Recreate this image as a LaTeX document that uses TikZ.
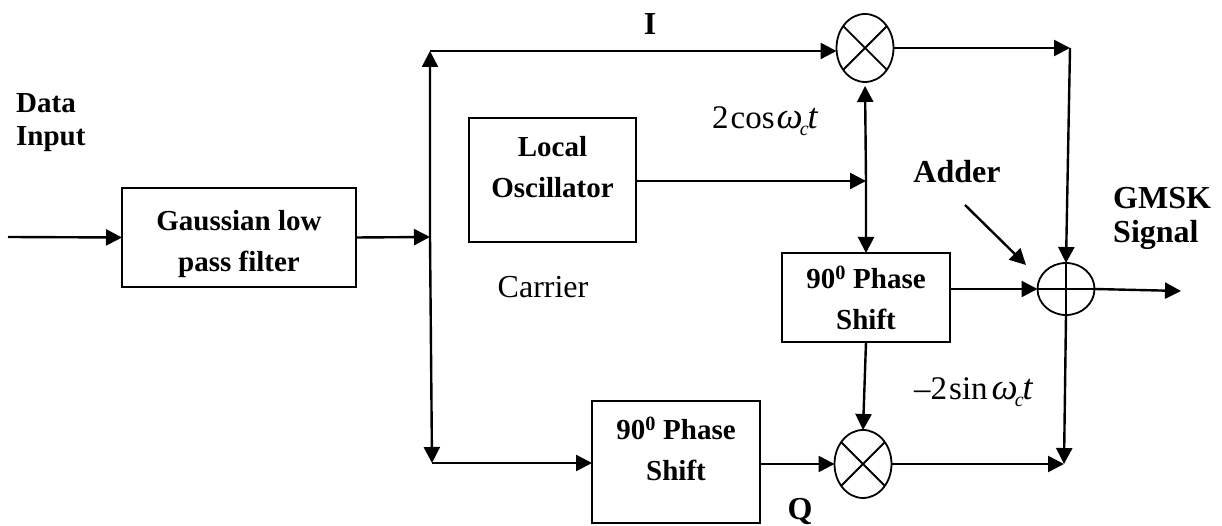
\documentclass[tikz,border=0pt]{standalone}
\usepackage{fontspec}
\setmainfont{Liberation Serif}
\usetikzlibrary{arrows.meta,shapes.geometric}
\tikzset{
  blockbox/.style={draw,line width=1.8pt,inner sep=0pt,outer sep=0pt,align=center,font=\fontsize{29}{41}\selectfont\bfseries},
  mixer/.style={draw,ellipse,line width=1.8pt,inner sep=0pt,outer sep=0pt,minimum width=57pt,minimum height=68pt},
  summer/.style={draw,ellipse,line width=1.8pt,inner sep=0pt,outer sep=0pt,minimum width=57pt,minimum height=52pt},
  flow/.style={line width=2.4pt,-{Triangle[length=16pt,width=16pt]}},
  twoway/.style={line width=2.4pt,{Triangle[length=16pt,width=16pt]}-{Triangle[length=16pt,width=16pt]}},
  boldlabel/.style={inner sep=0pt,align=left,font=\fontsize{29}{33.5}\selectfont\bfseries},
  biglabel/.style={inner sep=0pt,align=left,font=\fontsize{32}{34}\selectfont\bfseries},
  thinlabel/.style={inner sep=0pt,font=\fontsize{32}{36}\selectfont},
  mathlabel/.style={inner sep=0pt,font=\fontsize{33}{36}\selectfont}
}
\newcommand{\omc}{{\fontsize{37}{40}\selectfont\textit{ω}}\kern-3pt\raisebox{-7pt}{\fontsize{20}{22}\selectfont\textit{c}}\kern-1pt{\fontsize{36}{40}\selectfont\textit{t}}}
\begin{document}
\begin{tikzpicture}[x=1pt,y=1pt]
\useasboundingbox (0,0) rectangle (1222,526);
% blocks
\node[blockbox,minimum width=234pt,minimum height=99pt] (gauss) at (239,288.5) {\strut\\[-36.5pt]Gaussian low\\pass filter};
\node[blockbox,minimum width=167pt,minimum height=124pt] (lo) at (552.5,346) {Local\\Oscillator\\[-27pt]\strut};
\node[blockbox,minimum width=168pt,minimum height=89pt] (ps1) at (866,228.5) {90\textsuperscript{0} Phase\\Shift};
\node[blockbox,minimum width=168pt,minimum height=122pt] (ps2) at (676,64) {90\textsuperscript{0} Phase\\Shift\\[-27pt]\strut};
\node[mixer] (m1) at (865,478) {};
\node[mixer] (m2) at (863,62) {};
\node[summer] (sum) at (1066,237) {};
\foreach \m in {m1,m2}{
  \draw[line width=1.8pt] (\m.45) -- (\m.225);
  \draw[line width=1.8pt] (\m.135) -- (\m.315);
}
\draw[line width=1.8pt] (sum.north) -- (sum.south);
\draw[line width=1.8pt] (sum.west) -- (sum.east);
% junctions
\coordinate (inp) at (8,289);
\coordinate (jin) at (430,289);
\coordinate (top) at (430,475);
\coordinate (bot) at (432,63);
\coordinate (topr) at (1070,478);
\coordinate (botr) at (1064,62);
\coordinate (jlo) at (866,345);
\coordinate (out) at (1181,235);
\coordinate (addtail) at (965,321);
\coordinate (addtip) at (1026,261);
% connectors
\draw[flow] (inp) -- (gauss.west);
\draw[flow] (gauss.east) -- (jin);
\draw[twoway] (top) -- (jin) -- (bot);
\draw[flow] (top) -- (m1.west |- top);
\draw[flow] (bot) -- (ps2.west |- bot);
\draw[flow] (ps2.east |- m2.west) -- (m2.west);
\draw[flow] (m1.east) -- (topr);
\draw[flow] (m2.east) -- (botr);
\draw[flow] (topr) -- (sum.north);
\draw[flow] (sum.south) -- (botr);
\draw[flow] (lo.east |- jlo) -- (jlo);
\draw[twoway,shorten <=4pt] (m1.south) -- (jlo) -- (ps1.north);
\draw[flow] (ps1.east |- sum.west) -- (sum.west);
\draw[flow] (ps1.south) -- (m2.north);
\draw[flow] (sum.east) -- (out);
\draw[flow] (addtail) -- (addtip);
% labels
\node[biglabel] (li) at (650,502) {I};
\node[biglabel] (lq) at (800,14) {Q};
\node[boldlabel,anchor=north west,align=left] (ldata) at (16,433) {Data\\Input};
\node[biglabel] (ladd) at (957,354) {Adder};
\node[biglabel,anchor=north west,align=left] (lgmsk) at (1113,339) {GMSK\\Signal};
\node[thinlabel] (lcar) at (543,239) {Carrier};
\node[mathlabel,anchor=base west] (lcos) at (712,397) {2\kern2pt cos\kern2pt\omc};
\node[mathlabel,anchor=base west] (lsin) at (914,126) {–2\kern2pt sin\kern4pt\omc};
\end{tikzpicture}
\end{document}
